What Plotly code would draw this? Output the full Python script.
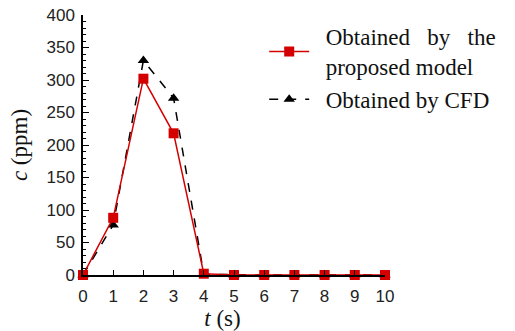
import plotly.graph_objects as go

t = [0, 1, 2, 3, 4, 5, 6, 7, 8, 9, 10]
model = [0, 88, 302, 218, 2, 0, 0, 0, 0, 0, 0]
cfd = [0, 77, 330, 272, 1, 0, 0, 0, 0, 0, 0]
xticks = list(range(0, 11))
yticks = list(range(0, 401, 50))

SERIF = "Liberation Serif, Times New Roman, serif"
NB = "&nbsp;"

fig = go.Figure()
fig.add_trace(go.Scatter(
    x=t, y=cfd, mode="lines+markers", name=NB * 2 + "Obtained by CFD",
    line=dict(color="black", width=1.5, dash="dash"),
    marker=dict(symbol="triangle-up", size=10, color="black"),
    cliponaxis=False,
))
fig.add_trace(go.Scatter(
    x=t, y=model, mode="lines+markers",
    name=NB * 2 + "Obtained" + NB * 2 + " by" + NB * 2 + " the<br>" + NB * 2 + "proposed model",
    line=dict(color="#d40000", width=1.5),
    marker=dict(symbol="square", size=10, color="#d40000"),
    cliponaxis=False,
))

fig.update_layout(
    width=515, height=331,
    margin=dict(l=83, r=130, t=15, b=56),
    plot_bgcolor="white", paper_bgcolor="white",
    font=dict(family="Liberation Sans, Arial", size=17, color="#222"),
    legend=dict(
        x=0.6, y=1.0, xanchor="left", yanchor="top",
        font=dict(family=SERIF, size=23, color="#111"),
        bgcolor="rgba(0,0,0,0)", traceorder="reversed",
        tracegroupgap=0, itemwidth=40,
    ),
    showlegend=True,
)
fig.update_xaxes(
    range=[0, 10], tickvals=xticks, ticks="inside", ticklen=5, tickcolor="black",
    showline=True, linecolor="black", linewidth=1.5, showgrid=False, zeroline=False,
    automargin=False, ticklabelstandoff=5, ticklabeloverflow="allow",
    title=dict(text="<i>t</i> (s)" + NB * 4, font=dict(family=SERIF, size=23, color="#111"), standoff=0),
)
fig.update_yaxes(
    range=[0, 400], tickvals=yticks, ticks="inside", ticklen=6, tickcolor="black",
    showline=True, linecolor="black", linewidth=1.5, showgrid=False, zeroline=False,
    automargin=False, ticklabelstandoff=3, ticklabeloverflow="allow",
    minor=dict(dtick=10, ticks="inside", ticklen=3, tickcolor="black", showgrid=False),
    title=dict(text="<i>c</i> (ppm)", font=dict(family=SERIF, size=23, color="#111"), standoff=12),
)
fig.write_html("out.html", config={"displayModeBar": False},
               post_script="document.body.style.margin='0';")
